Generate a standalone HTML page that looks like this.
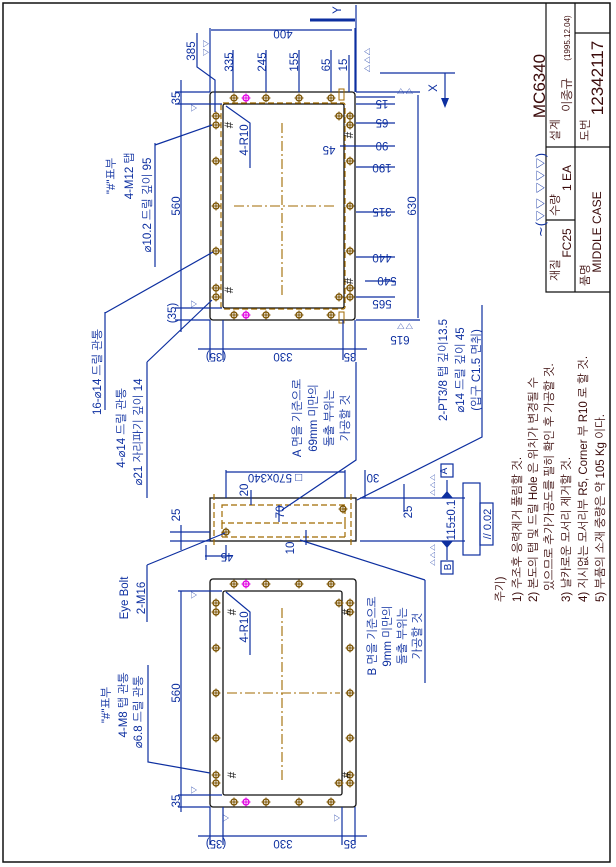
<!DOCTYPE html>
<html><head><meta charset="utf-8"><style>
html,body{margin:0;padding:0;background:#fff}
svg{display:block}
text{font-family:"Liberation Sans","NanumGothic","Noto Sans CJK KR",sans-serif;font-size:11.5px;fill:#0d2fa0}
.d{fill:#3a0a0a}
.b{stroke:#0d2fa0;stroke-width:1.2;fill:none}
.k{stroke:#111;stroke-width:1.3;fill:none}
.br{stroke:#a06a00;stroke-width:1.2;fill:none;stroke-dasharray:6 3}
.cl{stroke:#a06a00;stroke-width:1.1;fill:none;stroke-dasharray:10 3 2 3}
</style></head><body>
<svg width="616" height="867" viewBox="0 0 616 867" xmlns="http://www.w3.org/2000/svg">
<defs>
<g id="h"><circle r="3" fill="none" stroke="#7a5200" stroke-width="1.3"/><path d="M-4.5 0H4.5M0 -4.5V4.5" stroke="#7a5200" stroke-width="1"/></g>
<g id="m"><circle r="3" fill="none" stroke="#e000e0" stroke-width="1.3"/><path d="M-4.5 0H4.5M0 -4.5V4.5" stroke="#e000e0" stroke-width="1"/></g>
</defs>
<rect x="3" y="3" width="607" height="859" fill="none" stroke="#111" stroke-width="1.5"/>

<!-- Title block -->
<g stroke="#111" stroke-width="1.2" fill="none">
<path d="M546 3V292H610M575 3V292M546 147H610M546 220H575M575 33H610"/>
</g>
<text class="d" transform="translate(545,86) rotate(-90)" text-anchor="middle" style="font-size:17px">MC6340</text>
<text transform="translate(545,195) rotate(-90)" text-anchor="middle" style="font-size:13px">∼(▽▽ ▽▽▽)</text>
<text class="d" transform="translate(559,130) rotate(-90)" text-anchor="middle">설계</text>
<text class="d" transform="translate(571,95) rotate(-90)" text-anchor="middle" style="font-size:12px">이종규</text>
<text class="d" transform="translate(570,38) rotate(-90)" text-anchor="middle" style="font-size:8px">(1995.12.04)</text>
<text class="d" transform="translate(559,205) rotate(-90)" text-anchor="middle">수량</text>
<text class="d" transform="translate(571,178) rotate(-90)" text-anchor="middle" style="font-size:12px">1 EA</text>
<text class="d" transform="translate(559,270) rotate(-90)" text-anchor="middle">재질</text>
<text class="d" transform="translate(571,243) rotate(-90)" text-anchor="middle" style="font-size:12px">FC25</text>
<text class="d" transform="translate(589,130) rotate(-90)" text-anchor="middle">도번</text>
<text class="d" transform="translate(603,78) rotate(-90)" text-anchor="middle" style="font-size:17px">12342117</text>
<text class="d" transform="translate(589,275) rotate(-90)" text-anchor="middle">품명</text>
<text class="d" transform="translate(601,232) rotate(-90)" text-anchor="middle" style="font-size:12px">MIDDLE CASE</text>

<!-- Notes -->
<g class="d" style="font-size:12px">
<text class="d" transform="translate(504,602) rotate(-90)">주기)</text>
<text class="d" transform="translate(521,602) rotate(-90)">1) 주조후 응력제거 풀림할 것.</text>
<text class="d" transform="translate(537,602) rotate(-90)">2) 본도의 탭 및 드릴 Hole 은 위치가 변경될 수</text>
<text class="d" transform="translate(553,591) rotate(-90)">있으므로 추가가공도를 필히 확인 후 가공할 것.</text>
<text class="d" transform="translate(570,602) rotate(-90)">3) 날카로운 모서리 제거할 것.</text>
<text class="d" transform="translate(587,602) rotate(-90)">4) 지시없는 모서리부 R5, Corner 부 R10 로 할 것.</text>
<text class="d" transform="translate(604,602) rotate(-90)">5) 부품의 소재 중량은 약 105 Kg 이다.</text>
</g>

<!-- ===== View 1 (top) ===== -->
<rect x="210" y="92" width="145" height="228" rx="3" class="k"/>
<rect x="223" y="104" width="121" height="204" rx="2" class="k"/>
<rect x="221" y="103" width="124" height="206" rx="2" class="br"/>
<path d="M282 123V295M234 206H336" class="cl"/>
<rect x="339" y="89" width="5" height="11" fill="none" stroke="#a06a00"/>
<rect x="339" y="312" width="5" height="11" fill="none" stroke="#a06a00"/>
<use href="#h" x="234" y="98"/><use href="#m" x="246" y="98"/><use href="#h" x="266" y="98"/><use href="#h" x="299" y="98"/><use href="#h" x="331" y="98"/>
<use href="#h" x="234" y="315"/><use href="#m" x="246" y="315"/><use href="#h" x="266" y="315"/><use href="#h" x="299" y="315"/><use href="#h" x="331" y="315"/>
<use href="#h" x="216" y="116"/><use href="#h" x="216" y="125"/><use href="#h" x="216" y="161"/><use href="#h" x="216" y="206"/><use href="#h" x="216" y="251"/><use href="#h" x="216" y="288"/><use href="#h" x="216" y="297"/>
<use href="#h" x="350" y="116"/><use href="#h" x="350" y="125"/><use href="#h" x="350" y="161"/><use href="#h" x="350" y="206"/><use href="#h" x="350" y="251"/><use href="#h" x="350" y="288"/><use href="#h" x="350" y="297"/>
<use href="#h" x="339" y="116"/><use href="#h" x="339" y="297"/>
<text transform="translate(233,125) rotate(-90)" text-anchor="middle" style="fill:#111">#</text>
<text transform="translate(233,290) rotate(-90)" text-anchor="middle" style="fill:#111">#</text>
<text transform="translate(353,135) rotate(-90)" text-anchor="middle" style="fill:#111">#</text>
<text transform="translate(353,281) rotate(-90)" text-anchor="middle" style="fill:#111">#</text>
<text transform="translate(248,140) rotate(-90)" text-anchor="middle">4-R10</text>
<path class="b" d="M250 168V123L226 106"/>

<g class="b">
<path d="M356 5V92"/>
<path d="M310 20H355" stroke-width="3"/>
<path d="M211 30H352M210 28V92M355 28V92"/>
<path d="M233 50V92M266 50V92M299 50V92M331 50V92M349 55V92"/>
<path d="M197 33V67L215 80V112"/>
<path d="M181 80V332M175 92H210M175 104H222M175 308H222M175 320H210"/>
<path d="M356 104H395M356 123H395M340 146H395M356 167H395M356 212H395M356 257H395M365 281H395M356 297H395M356 97H395"/>
<path d="M356 92H420M356 320H420M418 95V318"/>
<path d="M380 73H455M445 73V100"/>
<path d="M198 349H367M210 320V360M223 320V360M343 320V360M355 320V360"/>
<path d="M155 143V267M155 145L212 125"/>
<path d="M105 312V410M105 313L213 252"/>
<path d="M147 362V498M147 362L212 300"/>
</g>
<path d="M441 98L445 108L449 98Z" fill="#0d2fa0"/>
<text transform="translate(341,10) rotate(-90)" text-anchor="middle">Y</text>
<text transform="translate(283,30) rotate(180)" text-anchor="middle">400</text>
<text transform="translate(195,51) rotate(-90)" text-anchor="middle">385</text>
<text transform="translate(233,62) rotate(-90)" text-anchor="middle">335</text>
<text transform="translate(266,62) rotate(-90)" text-anchor="middle">245</text>
<text transform="translate(298,62) rotate(-90)" text-anchor="middle">155</text>
<text transform="translate(330,65) rotate(-90)" text-anchor="middle">65</text>
<text transform="translate(347,65) rotate(-90)" text-anchor="middle">15</text>
<text transform="translate(209,48) rotate(-90)" text-anchor="middle" style="font-size:9px">▽▽</text>
<text transform="translate(364,60) rotate(90)" text-anchor="middle" style="font-size:9px">▽▽▽</text>
<text transform="translate(180,206) rotate(-90)" text-anchor="middle">560</text>
<text transform="translate(180,98) rotate(-90)" text-anchor="middle">35</text>
<text transform="translate(176,313) rotate(-90)" text-anchor="middle">(35)</text>
<text transform="translate(197,108) rotate(-90)" text-anchor="middle" style="font-size:9px">▽</text>
<text transform="translate(197,304) rotate(-90)" text-anchor="middle" style="font-size:9px">▽</text>
<text transform="translate(382,100) rotate(180)" text-anchor="middle">15</text>
<text transform="translate(382,119) rotate(180)" text-anchor="middle">65</text>
<text transform="translate(382,142) rotate(180)" text-anchor="middle">90</text>
<text transform="translate(382,164) rotate(180)" text-anchor="middle">190</text>
<text transform="translate(382,208) rotate(180)" text-anchor="middle">315</text>
<text transform="translate(382,254) rotate(180)" text-anchor="middle">440</text>
<text transform="translate(387,277) rotate(180)" text-anchor="middle">540</text>
<text transform="translate(382,300) rotate(180)" text-anchor="middle">565</text>
<text transform="translate(400,336) rotate(180)" text-anchor="middle">615</text>
<text transform="translate(329,146) rotate(180)" text-anchor="middle">45</text>
<text transform="translate(416,206) rotate(-90)" text-anchor="middle">630</text>
<text transform="translate(405,88) rotate(180)" text-anchor="middle" style="font-size:9px">▽▽</text>
<text transform="translate(405,323) rotate(180)" text-anchor="middle" style="font-size:9px">▽▽</text>
<text transform="translate(437,88) rotate(-90)" text-anchor="middle">X</text>
<text transform="translate(283,353) rotate(180)" text-anchor="middle">330</text>
<text transform="translate(216,353) rotate(180)" text-anchor="middle">(35)</text>
<text transform="translate(350,353) rotate(180)" text-anchor="middle">35</text>
<text transform="translate(115,176) rotate(-90)" text-anchor="middle">"#"표부</text>
<text transform="translate(133,176) rotate(-90)" text-anchor="middle">4-M12 탭</text>
<text transform="translate(151,205) rotate(-90)" text-anchor="middle">⌀10.2 드릴 깊이 95</text>
<text transform="translate(101,372) rotate(-90)" text-anchor="middle">16-⌀14 드릴 관통</text>
<text transform="translate(125,428) rotate(-90)" text-anchor="middle">4-⌀14 드릴 관통</text>
<text transform="translate(142,432) rotate(-90)" text-anchor="middle">⌀21 자리파기 깊이 14</text>

<!-- ===== View 2 (middle) ===== -->
<rect x="210" y="498" width="146" height="43" class="k"/>
<rect x="222" y="505" width="123" height="18" class="br"/>
<path d="M222 537H345M222 523V537M345 523V537M214 494V546M351 494V546" class="br"/>
<use href="#h" x="226" y="532"/><use href="#h" x="343" y="509"/>
<g class="b">
<path d="M226 472H345M226 470V498M345 470V498M365 470V498"/>
<path d="M251 490V505M279 505V522M306 530V545M181 525V550M170 532H210M170 541H210M205 556H232M206 545V560M226 545V560"/>
<path d="M404 484V512M360 498H465M360 541H465M447 480V497M447 542V560"/>
<rect x="463" y="483" width="17" height="72"/>
<rect x="480" y="503" width="13" height="42"/>
<rect x="441" y="464" width="12" height="13"/>
<rect x="441" y="561" width="12" height="13"/>
<path d="M356 362V460L282 510M482 305V437L357 500M147 565V622M147 565L225 533M425 580V683M425 580L300 540"/>
</g>
<path d="M441 498L447 491L453 498Z" fill="#0d2fa0"/><path d="M441 541L447 548L453 541Z" fill="#0d2fa0"/>
<text transform="translate(447,471) rotate(-90)" text-anchor="middle" style="font-size:10px">A</text>
<text transform="translate(451,567) rotate(-90)" text-anchor="middle" style="font-size:10px">B</text>
<text transform="translate(491,524) rotate(-90)" text-anchor="middle" style="font-size:11px">// 0.02</text>
<text transform="translate(455,520) rotate(-90)" text-anchor="middle">115±0.1</text>
<text transform="translate(412,512) rotate(-90)" text-anchor="middle">25</text>
<text transform="translate(430,485) rotate(90)" text-anchor="middle" style="font-size:8px">▽▽▽</text>
<text transform="translate(430,555) rotate(90)" text-anchor="middle" style="font-size:8px">▽▽▽</text>
<text transform="translate(275,474) rotate(180)" text-anchor="middle">□ 570x340</text>
<text transform="translate(373,474) rotate(180)" text-anchor="middle">30</text>
<text transform="translate(248,490) rotate(-90)" text-anchor="middle">20</text>
<text transform="translate(284,512) rotate(-90)" text-anchor="middle">70</text>
<text transform="translate(294,548) rotate(-90)" text-anchor="middle">10</text>
<text transform="translate(180,515) rotate(-90)" text-anchor="middle">25</text>
<text transform="translate(227,553) rotate(180)" text-anchor="middle">45</text>
<text transform="translate(301,418) rotate(-90)" text-anchor="middle">A 면을 기준으로</text>
<text transform="translate(317,418) rotate(-90)" text-anchor="middle">69mm 미만의</text>
<text transform="translate(333,418) rotate(-90)" text-anchor="middle">돌출 부위는</text>
<text transform="translate(349,418) rotate(-90)" text-anchor="middle">가공할 것</text>
<text transform="translate(447,370) rotate(-90)" text-anchor="middle">2-PT3/8 탭 깊이13.5</text>
<text transform="translate(464,370) rotate(-90)" text-anchor="middle">⌀14 드릴 깊이 45</text>
<text transform="translate(480,370) rotate(-90)" text-anchor="middle">(입구 C1.5 면취)</text>
<text transform="translate(128,598) rotate(-90)" text-anchor="middle">Eye Bolt</text>
<text transform="translate(145,598) rotate(-90)" text-anchor="middle">2-M16</text>
<text transform="translate(376,636) rotate(-90)" text-anchor="middle">B 면을 기준으로</text>
<text transform="translate(391,636) rotate(-90)" text-anchor="middle">9mm 미만의</text>
<text transform="translate(406,636) rotate(-90)" text-anchor="middle">돌출 부위는</text>
<text transform="translate(421,636) rotate(-90)" text-anchor="middle">가공할 것</text>

<!-- ===== View 3 (bottom) ===== -->
<rect x="210" y="579" width="146" height="228" rx="3" class="k"/>
<rect x="223" y="591" width="119" height="204" rx="2" class="k"/>
<path d="M282 608V780M227 693H340" class="cl"/>
<use href="#h" x="234" y="584"/><use href="#m" x="246" y="584"/><use href="#h" x="266" y="584"/><use href="#h" x="299" y="584"/><use href="#h" x="331" y="584"/>
<use href="#h" x="234" y="802"/><use href="#m" x="246" y="802"/><use href="#h" x="266" y="802"/><use href="#h" x="299" y="802"/><use href="#h" x="331" y="802"/>
<use href="#h" x="216" y="603"/><use href="#h" x="216" y="612"/><use href="#h" x="216" y="648"/><use href="#h" x="216" y="693"/><use href="#h" x="216" y="738"/><use href="#h" x="216" y="775"/><use href="#h" x="216" y="783"/>
<use href="#h" x="350" y="603"/><use href="#h" x="350" y="612"/><use href="#h" x="350" y="648"/><use href="#h" x="350" y="693"/><use href="#h" x="350" y="738"/><use href="#h" x="350" y="775"/><use href="#h" x="350" y="783"/>
<use href="#h" x="339" y="603"/><use href="#h" x="339" y="783"/>
<text transform="translate(236,612) rotate(-90)" text-anchor="middle" style="fill:#111">#</text>
<text transform="translate(236,775) rotate(-90)" text-anchor="middle" style="fill:#111">#</text>
<text transform="translate(350,612) rotate(-90)" text-anchor="middle" style="fill:#111">#</text>
<text transform="translate(350,775) rotate(-90)" text-anchor="middle" style="fill:#111">#</text>
<text transform="translate(248,627) rotate(-90)" text-anchor="middle">4-R10</text>
<path class="b" d="M250 655V612L226 592"/>
<g class="b">
<path d="M181 591V812M178 591H222M178 795H222M178 807H210"/>
<path d="M198 836H367M210 807V845M223 807V845M342 807V845M355 807V845"/>
<path d="M148 665V762L210 773"/>
</g>
<text transform="translate(180,693) rotate(-90)" text-anchor="middle">560</text>
<text transform="translate(180,801) rotate(-90)" text-anchor="middle">35</text>
<text transform="translate(197,595) rotate(-90)" text-anchor="middle" style="font-size:9px">▽</text>
<text transform="translate(197,790) rotate(-90)" text-anchor="middle" style="font-size:9px">▽</text>
<text transform="translate(229,818) rotate(-90)" text-anchor="middle" style="font-size:9px">▽</text>
<text transform="translate(340,818) rotate(-90)" text-anchor="middle" style="font-size:9px">▽</text>
<text transform="translate(283,840) rotate(180)" text-anchor="middle">330</text>
<text transform="translate(216,840) rotate(180)" text-anchor="middle">(35)</text>
<text transform="translate(350,840) rotate(180)" text-anchor="middle">35</text>
<text transform="translate(110,705) rotate(-90)" text-anchor="middle">"#"표부</text>
<text transform="translate(127,705) rotate(-90)" text-anchor="middle">4-M8 탭 관통</text>
<text transform="translate(142,712) rotate(-90)" text-anchor="middle">⌀6.8 드릴 관통</text>
</svg>
</body></html>
